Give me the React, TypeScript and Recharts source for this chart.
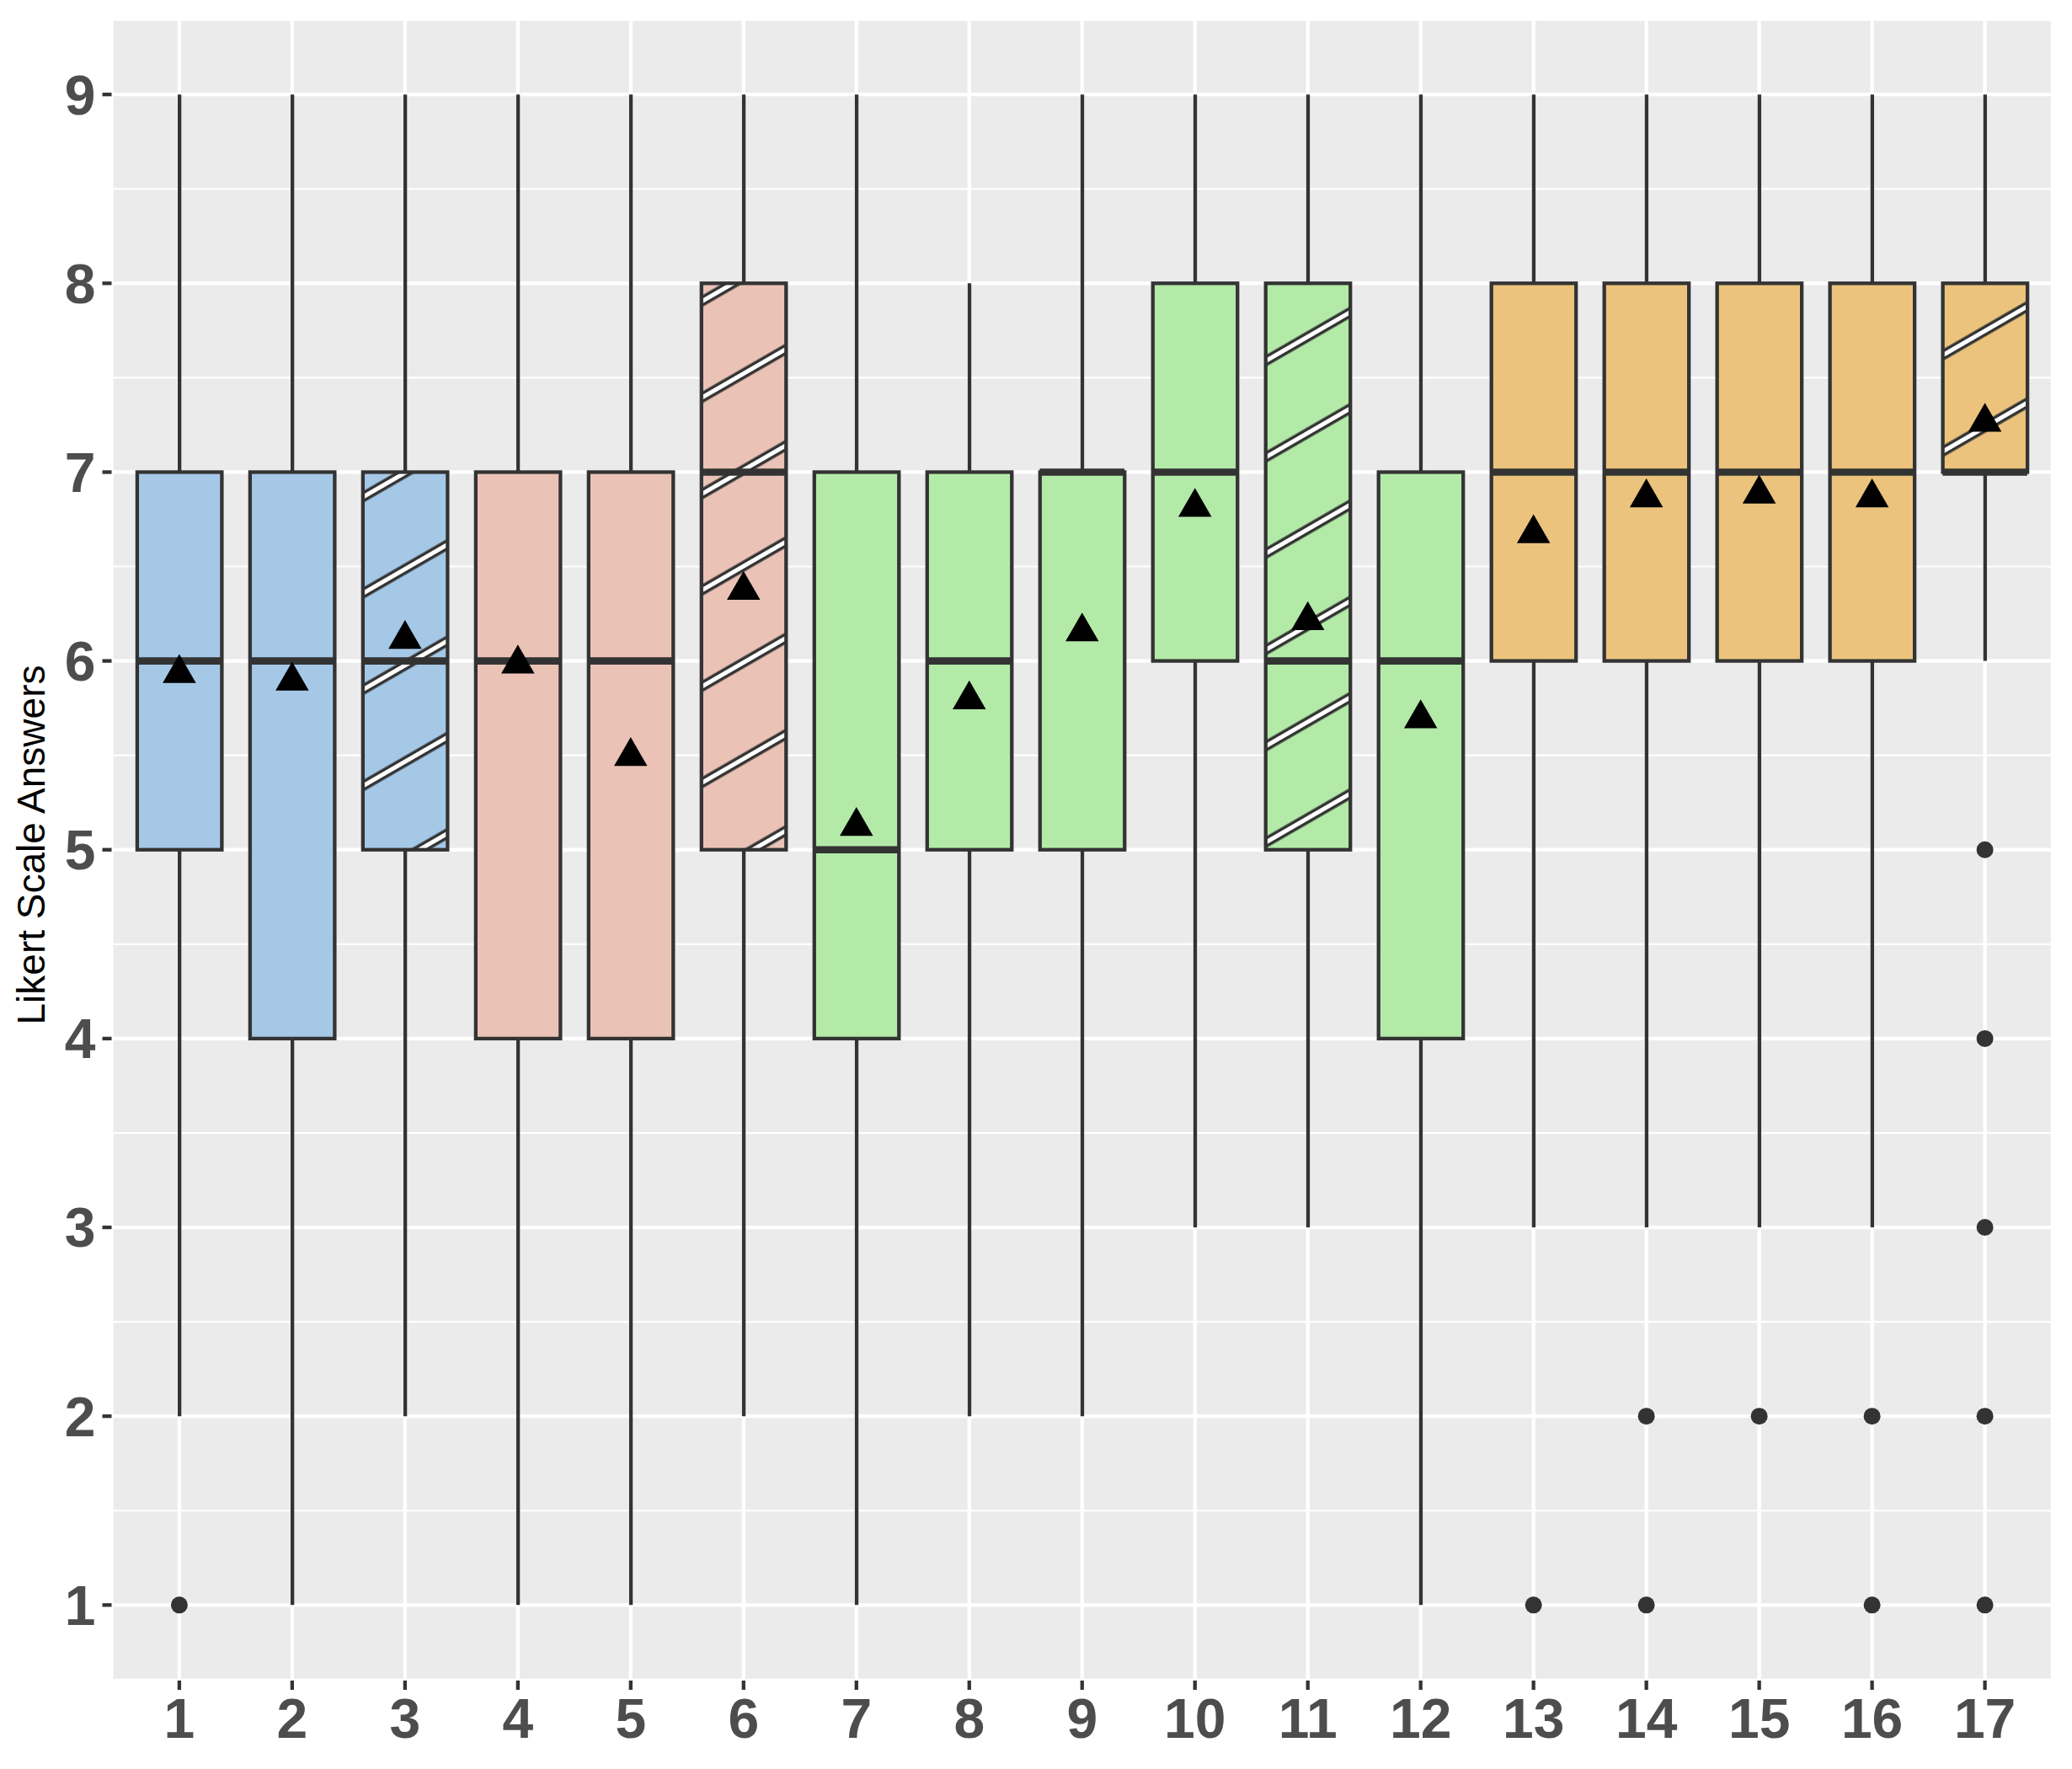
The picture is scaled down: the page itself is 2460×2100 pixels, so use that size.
import { ComposedChart, Bar, Scatter, XAxis, YAxis, CartesianGrid } from 'recharts';

const questions = ['1', '2', '3', '4', '5', '6', '7', '8', '9', '10', '11', '12', '13', '14', '15', '16', '17'];
const whiskerLow = [2, 1, 2, 1, 1, 2, 1, 2, 2, 3, 3, 1, 3, 3, 3, 3, 6];
const whiskerHigh = [9, 9, 9, 9, 9, 9, 9, 8, 9, 9, 9, 9, 9, 9, 9, 9, 9];
const lowerQuartile = [5, 4, 5, 4, 4, 5, 4, 5, 5, 6, 5, 4, 6, 6, 6, 6, 7];
const upperQuartile = [7, 7, 7, 7, 7, 8, 7, 7, 7, 8, 8, 7, 8, 8, 8, 8, 8];
const medians = [6, 6, 6, 6, 6, 7, 5, 6, 7, 7, 6, 6, 7, 7, 7, 7, 7];
const means = [5.96, 5.92, 6.14, 6.01, 5.52, 6.4, 5.15, 5.82, 6.18, 6.84, 6.24, 5.72, 6.7, 6.89, 6.91, 6.89, 7.29];
const outliers: number[][] = [[1], [], [], [], [], [], [], [], [], [], [], [], [1], [2, 1], [2], [2, 1], [5, 4, 3, 2, 1]];
const groups = ['a', 'a', 'a', 'b', 'b', 'b', 'c', 'c', 'c', 'c', 'c', 'c', 'd', 'd', 'd', 'd', 'd'];
const hatched = [false, false, true, false, false, true, false, false, false, false, true, false, false, false, false, false, true];
const yTicks = [1, 2, 3, 4, 5, 6, 7, 8, 9];
const yMinorTicks = [1.5, 2.5, 3.5, 4.5, 5.5, 6.5, 7.5, 8.5];

const palette: Record<string, string> = {
  a: '#A6C8E7',
  b: '#EAC3B6',
  c: '#B3EAA8',
  d: '#EBC37D',
};

const data = questions.map((q, i) => {
  const row: any = {
    q,
    whisk: [whiskerLow[i], whiskerHigh[i]],
    box: [lowerQuartile[i], upperQuartile[i]],
    med: medians[i],
    mean: means[i],
    fill: palette[groups[i]],
    hatched: hatched[i],
  };
  for (let k = 0; k < 5; k++) row['o' + k] = outliers[i][k] ?? null;
  return row;
});

const INK = '#333333';
const LW = 4.3;
const BOX_W = 100.5;
const tickStyle = { fontFamily: '"Liberation Sans", Arial, sans-serif', fontWeight: 700, fontSize: 66, fill: '#4D4D4D' };

function WhiskerShape(props: any) {
  const { x, y, width, height } = props;
  const cx = x + width / 2;
  const top = Math.min(y, y + height);
  return <line x1={cx} x2={cx} y1={top} y2={top + Math.abs(height)} stroke={INK} strokeWidth={LW} />;
}

function BoxShape(props: any) {
  const { x, y, width, height, payload, index } = props;
  const top = Math.min(y, y + height);
  const h = Math.abs(height);
  const pid = `stripes-${index}`;
  return (
    <g>
      {payload.hatched && (
        <defs>
          <pattern
            id={pid}
            patternUnits="userSpaceOnUse"
            width={400}
            height={99}
            patternTransform="translate(883 672) rotate(-30) translate(0 -49.5)"
          >
            <rect x={0} y={43.5} width={400} height={12} fill={INK} />
            <rect x={0} y={47} width={400} height={5} fill="#FFFFFF" />
          </pattern>
        </defs>
      )}
      <rect x={x} y={top} width={width} height={h} fill={payload.fill} />
      {payload.hatched && <rect x={x} y={top} width={width} height={h} fill={`url(#${pid})`} />}
      <rect x={x} y={top} width={width} height={h} fill="none" stroke={INK} strokeWidth={LW} />
    </g>
  );
}

function MedianShape(props: any) {
  const { cx, cy } = props;
  return <line x1={cx - BOX_W / 2} x2={cx + BOX_W / 2} y1={cy} y2={cy} stroke={INK} strokeWidth={8.6} />;
}

function MeanShape(props: any) {
  const { cx, cy } = props;
  const hw = 19.75;
  const hh = 17.1;
  return <path d={`M${cx},${cy - hh} L${cx + hw},${cy + hh} L${cx - hw},${cy + hh} Z`} fill="#000000" />;
}

function makeOutlierShape(key: string) {
  return (props: any) => {
    const { cx, cy, payload } = props;
    if (payload == null || payload[key] == null) return <g />;
    return <circle cx={cx} cy={cy} r={10} fill={INK} />;
  };
}

function YTitle() {
  return (
    <text
      x={53}
      y={1003}
      transform="rotate(-90 53 1003)"
      textAnchor="middle"
      fontFamily='"Liberation Sans", Arial, sans-serif'
      fontSize={46}
      fill="#000000"
    >
      Likert Scale Answers
    </text>
  );
}

export default function App() {
  return (
    <div style={{ position: 'absolute', left: 0, top: 0, width: 2460, height: 2100, background: '#FFFFFF' }}>
      <ComposedChart
        width={2460}
        height={2100}
        data={data}
        margin={{ top: 22.5, right: 23, bottom: 15, left: 0 }}
        barSize={BOX_W}
        barGap={-BOX_W}
      >
        <CartesianGrid
          yAxisId="minor"
          vertical={false}
          stroke="#FFFFFF"
          strokeWidth={2.15}
          fill="#EBEBEB"
          fillOpacity={1}
        />
        <CartesianGrid stroke="#FFFFFF" strokeWidth={LW} />
        <XAxis
          dataKey="q"
          type="category"
          padding={{ left: 13.4, right: 13.4 }}
          height={90}
          axisLine={false}
          tickLine={{ stroke: INK, strokeWidth: LW }}
          tickSize={11}
          tickMargin={10}
          tick={tickStyle}
          interval={0}
        />
        <YAxis
          type="number"
          domain={[0.6, 9.4]}
          ticks={yTicks}
          allowDataOverflow
          width={132.5}
          axisLine={false}
          tickLine={{ stroke: INK, strokeWidth: LW }}
          tickSize={11}
          tickMargin={8}
          tick={tickStyle}
          label={<YTitle />}
        />
        <YAxis yAxisId="minor" type="number" domain={[0.6, 9.4]} ticks={yMinorTicks} allowDataOverflow hide />
        <Bar dataKey="whisk" shape={<WhiskerShape />} isAnimationActive={false} />
        <Bar dataKey="box" shape={<BoxShape />} isAnimationActive={false} />
        <Scatter dataKey="med" shape={<MedianShape />} isAnimationActive={false} />
        {[0, 1, 2, 3, 4].map((k) => (
          <Scatter key={k} dataKey={'o' + k} shape={makeOutlierShape('o' + k)} isAnimationActive={false} />
        ))}
        <Scatter dataKey="mean" shape={<MeanShape />} isAnimationActive={false} />
      </ComposedChart>
    </div>
  );
}
